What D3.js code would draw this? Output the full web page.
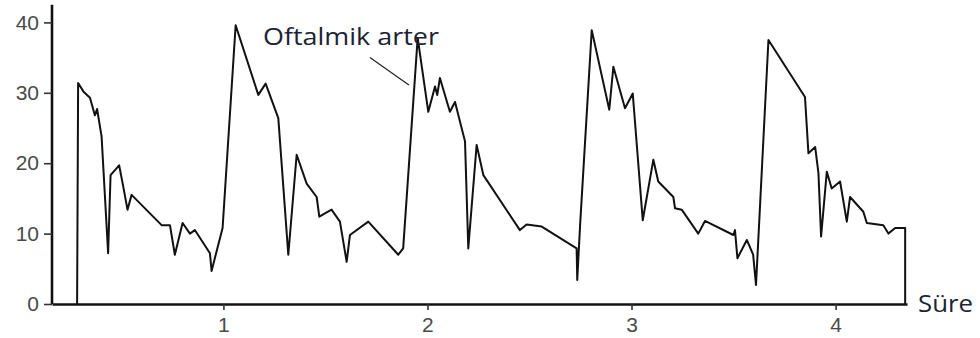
<!DOCTYPE html>
<html>
<head>
  <meta charset="utf-8">
  <title>Oftalmik arter</title>
  <script src="https://cdn.jsdelivr.net/npm/d3@7"></script>
  <style>
    body { margin: 0; background: #fff; }
    svg { display: block; }
  </style>
</head>
<body>
  <svg id="chart"></svg>

  <script>
    // time (s) and flow velocity
    var times = [0.283, 0.288, 0.316, 0.346, 0.370, 0.381, 0.390, 0.403, 0.435, 0.447,
      0.489, 0.509, 0.530, 0.550, 0.697, 0.738, 0.762, 0.800, 0.836, 0.860,
      0.934, 0.942, 0.996, 1.060, 1.171, 1.207, 1.269, 1.318, 1.359, 1.408,
      1.457, 1.470, 1.530, 1.571, 1.604, 1.620, 1.710, 1.857, 1.881, 1.952,
      2.004, 2.037, 2.048, 2.061, 2.110, 2.135, 2.184, 2.200, 2.241, 2.274,
      2.453, 2.486, 2.560, 2.731, 2.734, 2.748, 2.805, 2.891, 2.911, 2.968,
      3.006, 3.055, 3.107, 3.131, 3.205, 3.213, 3.246, 3.327, 3.360, 3.499,
      3.507, 3.519, 3.565, 3.596, 3.610, 3.671, 3.850, 3.867, 3.900, 3.916,
      3.929, 3.957, 3.981, 4.022, 4.055, 4.071, 4.136, 4.153, 4.234, 4.259,
      4.292, 4.341, 4.341];
    var values = [0, 31.4, 30.1, 29.3, 26.8, 27.7, 26.1, 23.8, 7.2, 18.3,
      19.7, 16.7, 13.4, 15.5, 11.2, 11.2, 7.0, 11.5, 10.0, 10.5,
      7.2, 4.7, 10.8, 39.6, 29.7, 31.3, 26.4, 7.0, 21.2, 17.1,
      15.2, 12.4, 13.4, 11.7, 6.0, 9.8, 11.7, 7.0, 7.9, 37.8,
      27.3, 30.9, 29.7, 32.1, 27.3, 28.7, 23.1, 7.9, 22.6, 18.3,
      10.5, 11.3, 11.0, 7.9, 3.4, 11.2, 38.9, 27.6, 33.7, 27.8,
      29.9, 11.9, 20.5, 17.4, 15.2, 13.6, 13.4, 10.0, 11.8, 9.8,
      10.5, 6.5, 9.1, 7.0, 2.7, 37.5, 29.4, 21.4, 22.3, 18.6,
      9.6, 18.8, 16.4, 17.4, 11.7, 15.2, 13.1, 11.5, 11.2, 10.0,
      10.8, 10.8, 0];

    var xTicks = [1, 2, 3, 4];
    var yTicks = [0, 10, 20, 30, 40];
    var xLabel = "Süre";
    var annotation = "Oftalmik arter";

    var width = 980;
    var height = 338;

    var x = d3.scaleLinear().domain([0.16, 4.35]).range([52, 907]);
    var y = d3.scaleLinear().domain([0, 40]).range([304, 22.4]);

    var svg = d3.select("#chart")
      .attr("width", width)
      .attr("height", height);

    // axes
    var xAxis = d3.axisBottom(x)
      .tickValues(xTicks)
      .tickFormat(d3.format("d"))
      .tickSize(6)
      .tickSizeOuter(0)
      .tickPadding(7);

    var yAxis = d3.axisLeft(y)
      .tickValues(yTicks)
      .tickSize(8)
      .tickSizeOuter(0)
      .tickPadding(5);

    var gx = svg.append("g")
      .attr("transform", "translate(0," + y(0) + ")")
      .call(xAxis);

    var gy = svg.append("g")
      .attr("transform", "translate(" + x(0.16) + ",0)")
      .call(yAxis);

    // extend y axis a little above 40
    gy.select(".domain").attr("d", "M0," + y(0) + "V" + y(42.5));

    [gx, gy].forEach(g => {
      g.select(".domain").style("stroke", "#111").style("stroke-width", "2.6px");
      g.selectAll(".tick line").style("stroke", "#333").style("stroke-width", "1.6px");
      g.selectAll(".tick text")
        .attr("fill", "#4a4a4a")
        .style("font", "21px 'Liberation Sans', Arial, sans-serif");
    });

    // waveform
    var pts = times.map((t, i) => [t, values[i]]);

    var line = d3.line()
      .x(d => x(d[0]))
      .y(d => y(d[1]));

    svg.append("path")
      .datum(pts)
      .attr("fill", "none")
      .attr("stroke", "#111")
      .attr("stroke-width", 2)
      .attr("stroke-linejoin", "round")
      .attr("d", line);

    // labels
    svg.append("text")
      .attr("x", x(4.404))
      .attr("y", y(-1.1))
      .attr("fill", "#1c2333")
      .attr("textLength", 55)
      .attr("lengthAdjust", "spacingAndGlyphs")
      .style("font", "24px 'Open Sans', sans-serif")
      .text(xLabel);

    svg.append("text")
      .attr("x", x(1.194))
      .attr("y", y(36.8))
      .attr("fill", "#1c2333")
      .attr("textLength", 176)
      .attr("lengthAdjust", "spacingAndGlyphs")
      .style("font", "24px 'Open Sans', sans-serif")
      .text(annotation);

    // leader line to the second peak
    svg.append("line")
      .attr("x1", x(1.718)).attr("y1", y(35.0))
      .attr("x2", x(1.909)).attr("y2", y(31.1))
      .attr("stroke", "#222")
      .attr("stroke-width", 1.2);
  </script>
</body>
</html>
